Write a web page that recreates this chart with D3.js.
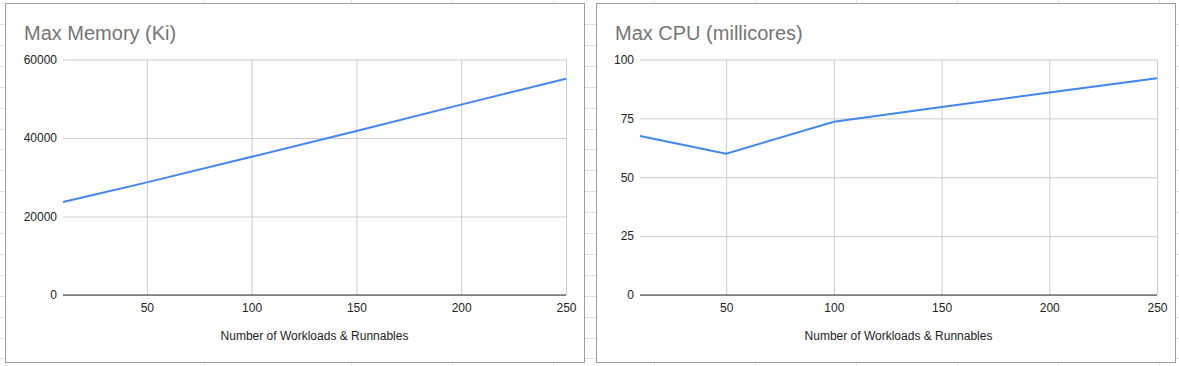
<!DOCTYPE html>
<html>
<head>
<meta charset="utf-8">
<script src="https://cdn.jsdelivr.net/npm/d3@7"></script>
<style>
  body { margin: 0; background: #fff; }
  svg { display: block; font-family: Arial, "Liberation Sans", sans-serif; }
</style>
</head>
<body>
<div class="chart"></div>
<script>
// data
var workloads = [10, 50, 100, 150, 200, 250];
var maxMemory = [23700, 28700, 35200, 41800, 48500, 55100];
var maxCpu = [67.5, 60, 73.6, 79.8, 86, 92];
var xTicks = [50, 100, 150, 200, 250];
var memoryTicks = [0, 20000, 40000, 60000];
var cpuTicks = [0, 25, 50, 75, 100];
var xTitle = "Number of Workloads & Runnables";

var svgWidth = 1179;
var svgHeight = 366;

var svg = d3.select(".chart")
  .append("svg")
  .attr("width", svgWidth)
  .attr("height", svgHeight);

// spreadsheet cell grid behind the charts
var sheet = svg.append("g").attr("stroke", "#e2e2e2").attr("stroke-width", 1);
sheet.selectAll("line.row")
  .data(d3.range(24, svgHeight, 20.9))
  .enter()
  .append("line")
  .attr("x1", 0).attr("x2", svgWidth)
  .attr("y1", d => Math.round(d) + 0.5).attr("y2", d => Math.round(d) + 0.5);
sheet.selectAll("line.col")
  .data([204].concat(d3.range(350.7, svgWidth, 101)))
  .enter()
  .append("line")
  .attr("y1", 0).attr("y2", svgHeight)
  .attr("x1", d => Math.round(d) + 0.5).attr("x2", d => Math.round(d) + 0.5);

function drawChart(opts) {
  var g = svg.append("g");

  // panel box
  g.append("rect")
    .attr("x", opts.box[0] + 0.5)
    .attr("y", opts.box[1] + 0.5)
    .attr("width", opts.box[2] - opts.box[0])
    .attr("height", opts.box[3] - opts.box[1])
    .attr("fill", "#fff")
    .attr("stroke", "#9e9e9e");

  g.append("text")
    .attr("x", opts.titleX)
    .attr("y", 40)
    .attr("font-size", "20px")
    .attr("fill", "#757575")
    .text(opts.title);

  var x = d3.scaleLinear()
    .domain([10, 250])
    .range([opts.left, opts.right]);

  var y = d3.scaleLinear()
    .domain([0, d3.max(opts.yTicks)])
    .range([295, 59.5]);

  // gridlines
  var xGrid = d3.axisBottom(x)
    .tickValues(xTicks)
    .tickSize(-(y(0) - y.range()[1]))
    .tickFormat("");
  g.append("g")
    .attr("transform", `translate(0, ${y(0)})`)
    .call(xGrid)
    .call(s => s.select(".domain").remove())
    .call(s => s.selectAll(".tick line").attr("stroke", "#cccccc"));

  var yGrid = d3.axisLeft(y)
    .tickValues(opts.yTicks)
    .tickSize(-(opts.right - opts.left))
    .tickFormat("");
  g.append("g")
    .attr("transform", `translate(${opts.left}, 0)`)
    .call(yGrid)
    .call(s => s.select(".domain").remove())
    .call(s => s.selectAll(".tick line").attr("stroke", "#cccccc"));

  // tick labels
  var yAxis = d3.axisLeft(y)
    .tickValues(opts.yTicks)
    .tickSize(0)
    .tickPadding(6)
    .tickFormat(d3.format("d"));
  g.append("g")
    .attr("transform", `translate(${opts.left}, 0)`)
    .call(yAxis)
    .call(s => s.select(".domain").remove())
    .call(s => s.selectAll("text").attr("font-size", "12px").attr("fill", "#222").attr("font-family", null));

  var xAxis = d3.axisBottom(x)
    .tickValues(xTicks)
    .tickSize(0)
    .tickPadding(8)
    .tickFormat(d3.format("d"));
  g.append("g")
    .attr("transform", `translate(0, ${y(0)})`)
    .call(xAxis)
    .call(s => s.select(".domain").remove())
    .call(s => s.selectAll("text").attr("font-size", "12px").attr("fill", "#222").attr("font-family", null));

  // baseline
  g.append("line")
    .attr("x1", opts.left).attr("x2", opts.right)
    .attr("y1", y(0)).attr("y2", y(0))
    .attr("stroke", "#333")
    .attr("stroke-width", 1.2);

  g.append("text")
    .attr("x", (opts.left + opts.right) / 2)
    .attr("y", 340)
    .attr("text-anchor", "middle")
    .attr("font-size", "12px")
    .attr("fill", "#222")
    .text(xTitle);

  var line = d3.line()
    .x((d, i) => x(workloads[i]))
    .y(d => y(d));

  g.append("path")
    .datum(opts.values)
    .attr("d", line)
    .attr("fill", "none")
    .attr("stroke", "#4285f4")
    .attr("stroke-width", 2);
}

drawChart({
  box: [5, 3, 584, 362],
  title: "Max Memory (Ki)",
  titleX: 24,
  left: 63,
  right: 566,
  yTicks: memoryTicks,
  values: maxMemory
});

drawChart({
  box: [596, 3, 1175, 362],
  title: "Max CPU (millicores)",
  titleX: 615,
  left: 640,
  right: 1157,
  yTicks: cpuTicks,
  values: maxCpu
});
</script>
</body>
</html>
